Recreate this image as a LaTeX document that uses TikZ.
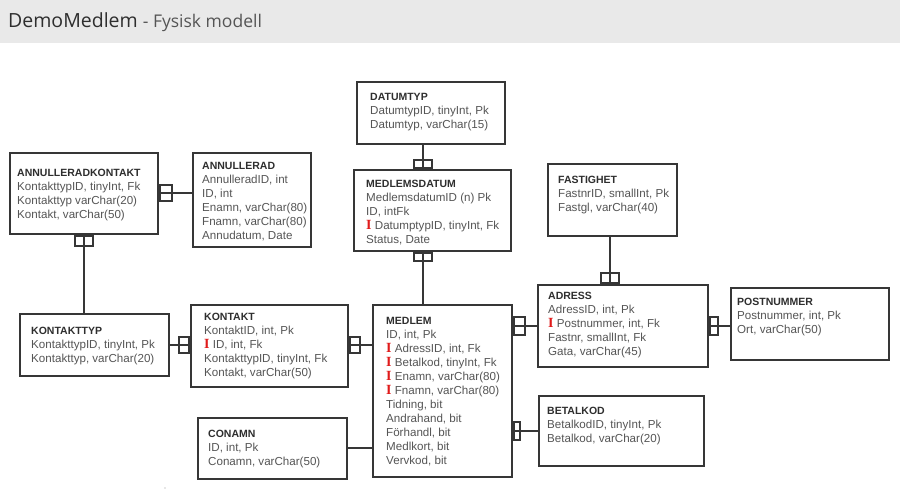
\documentclass[tikz,border=0pt]{standalone}
\usepackage{fontspec}
\setmainfont{Liberation Serif}
\setsansfont{Liberation Sans}
\newfontfamily\headfont{Open Sans}
\usetikzlibrary{positioning}
\definecolor{linec}{HTML}{363636}
\definecolor{namec}{HTML}{2E2E2E}
\definecolor{rowc}{HTML}{555555}
\definecolor{barc}{HTML}{E9E9E9}
\definecolor{keyred}{HTML}{E01B1B}
\newcommand{\tname}[1]{{\color{namec}\fontsize{10.5}{14}\selectfont\bfseries #1}}
\newcommand{\fk}{{\color{keyred}\rmfamily\bfseries\fontsize{14}{14}\selectfont I}\ }
\tikzset{
  tbl/.style={draw=linec, line width=2pt, fill=white, inner sep=0pt},
  rows/.style={anchor=north west, inner sep=0pt, align=left, text=rowc,
    font=\sffamily\fontsize{11.6}{14}\selectfont},
  endbox/.style={draw=linec, line width=2pt, inner sep=0pt},
  link/.style={draw=linec, line width=2pt},
}

\begin{document}
\begin{tikzpicture}[x=1pt, y=-1pt]
\useasboundingbox (0,0) rectangle (900,500);
\fill[barc] (0,0) rectangle (900,43);
\node[anchor=base west, inner sep=0pt, font=\headfont\fontsize{19.5}{22}\selectfont] (title) at (8,28)
  {\textcolor{namec}{DemoMedlem}\ \textcolor{rowc}{\fontsize{17.5}{22}\selectfont- Fysisk modell}};

\node[tbl, minimum width=148, minimum height=81] (annkont) at (84,193.5) {};
\node[tbl, minimum width=118, minimum height=94] (annull) at (252,200) {};
\node[tbl, minimum width=148, minimum height=62] (datumtyp) at (431,113) {};
\node[tbl, minimum width=157, minimum height=81] (medldatum) at (432.5,210.5) {};
\node[tbl, minimum width=129, minimum height=72] (fastighet) at (612.5,200) {};
\node[tbl, minimum width=170, minimum height=82] (adress) at (623,326) {};
\node[tbl, minimum width=158, minimum height=72] (postnr) at (810,324) {};
\node[tbl, minimum width=149, minimum height=62] (kontakttyp) at (94.5,345) {};
\node[tbl, minimum width=157, minimum height=82] (kontakt) at (269.5,346) {};
\node[tbl, minimum width=139, minimum height=172] (medlem) at (442.5,391) {};
\node[tbl, minimum width=165, minimum height=70] (betalkod) at (621.5,431) {};
\node[tbl, minimum width=149, minimum height=61] (conamn) at (272.5,448.5) {};

\node[rows] (annkont-t) at ([shift={(8,17)}]annkont.north west)
  {\tname{ANNULLERADKONTAKT}\\KontakttypID, tinyInt, Fk\\Kontakttyp varChar(20)\\Kontakt, varChar(50)};
\node[rows] (annull-t) at ([shift={(10,10)}]annull.north west)
  {\tname{ANNULLERAD}\\AnnulleradID, int\\ID, int\\Enamn, varChar(80)\\Fnamn, varChar(80)\\Annudatum, Date};
\node[rows] (datumtyp-t) at ([shift={(14,12)}]datumtyp.north west)
  {\tname{DATUMTYP}\\DatumtypID, tinyInt, Pk\\Datumtyp, varChar(15)};
\node[rows] (medldatum-t) at ([shift={(13,11)}]medldatum.north west)
  {\tname{MEDLEMSDATUM}\\MedlemsdatumID (n) Pk\\ID, intFk\\\fk DatumptypID, tinyInt, Fk\\Status, Date};
\node[rows] (fastighet-t) at ([shift={(11,13)}]fastighet.north west)
  {\tname{FASTIGHET}\\FastnrID, smallInt, Pk\\Fastgl, varChar(40)};
\node[rows] (adress-t) at ([shift={(11,8)}]adress.north west)
  {\tname{ADRESS}\\AdressID, int, Pk\\\fk Postnummer, int, Fk\\Fastnr, smallInt, Fk\\Gata, varChar(45)};
\node[rows] (postnr-t) at ([shift={(7,11)}]postnr.north west)
  {\tname{POSTNUMMER}\\Postnummer, int, Pk\\Ort, varChar(50)};
\node[rows] (kontakttyp-t) at ([shift={(12,14)}]kontakttyp.north west)
  {\tname{KONTAKTTYP}\\KontakttypID, tinyInt, Pk\\Kontakttyp, varChar(20)};
\node[rows] (kontakt-t) at ([shift={(14,9)}]kontakt.north west)
  {\tname{KONTAKT}\\KontaktID, int, Pk\\\fk ID, int, Fk\\KontakttypID, tinyInt, Fk\\Kontakt, varChar(50)};
\node[rows] (medlem-t) at ([shift={(14,13)}]medlem.north west)
  {\tname{MEDLEM}\\ID, int, Pk\\\fk AdressID, int, Fk\\\fk Betalkod, tinyInt, Fk\\\fk Enamn, varChar(80)\\\fk Fnamn, varChar(80)\\Tidning, bit\\Andrahand, bit\\Förhandl, bit\\Medlkort, bit\\Vervkod, bit};
\node[rows] (betalkod-t) at ([shift={(9,12)}]betalkod.north west)
  {\tname{BETALKOD}\\BetalkodID, tinyInt, Pk\\Betalkod, varChar(20)};
\node[rows] (conamn-t) at ([shift={(11,13)}]conamn.north west)
  {\tname{CONAMN}\\ID, int, Pk\\Conamn, varChar(50)};

\draw[link] ([xshift=-8]datumtyp.south) -- ([xshift=-8]datumtyp.south |- medldatum.north);
\draw[link] ([xshift=-9.5]medldatum.south) -- ([xshift=-9.5]medldatum.south |- medlem.north);
\draw[link] ([yshift=0.5]annkont.east) -- ([yshift=0.5]annkont.east -| annull.west);
\draw[link] (annkont.south) -- (annkont.south |- kontakttyp.north);
\draw[link] (kontakttyp.east) -- (kontakttyp.east -| kontakt.west);
\draw[link] ([yshift=1]kontakt.east) -- ([yshift=1]kontakt.east -| medlem.west);
\draw[link] ([yshift=0.5]conamn.east) -- ([yshift=0.5]conamn.east -| medlem.west);
\draw[link] (adress.west -| medlem.east) -- (adress.west);
\draw[link] (betalkod.west -| medlem.east) -- (betalkod.west);
\draw[link] ([xshift=-2.5]fastighet.south) -- ([xshift=-2.5]fastighet.south |- adress.north);
\draw[link] (adress.east) -- (adress.east -| postnr.west);

\node[endbox, minimum width=18, minimum height=8, anchor=south] (m1) at ([xshift=-9.5]medldatum.north) {};
\node[endbox, minimum width=18, minimum height=8, anchor=north] (m2) at ([xshift=-9.5]medldatum.south) {};
\node[endbox, minimum width=12, minimum height=16, anchor=west] (m3) at ([yshift=0.5]annkont.east) {};
\node[endbox, minimum width=18, minimum height=10, anchor=north] (m4) at (annkont.south) {};
\node[endbox, minimum width=10, minimum height=16, anchor=east] (m5) at (kontakttyp.east -| kontakt.west) {};
\node[endbox, minimum width=10, minimum height=16, anchor=west] (m6) at ([yshift=1]kontakt.east) {};
\node[endbox, minimum width=11, minimum height=18, anchor=west] (m8) at (adress.west -| medlem.east) {};
\node[endbox, minimum width=6, minimum height=18, anchor=west] (m9) at (betalkod.west -| medlem.east) {};
\node[endbox, minimum width=18, minimum height=10, anchor=south] (m10) at ([xshift=-2.5]fastighet.south |- adress.north) {};
\node[endbox, minimum width=8, minimum height=18, anchor=west] (m11) at (adress.east) {};

\fill[rowc!60] (165,488) circle (0.6pt);
\end{tikzpicture}
\end{document}
